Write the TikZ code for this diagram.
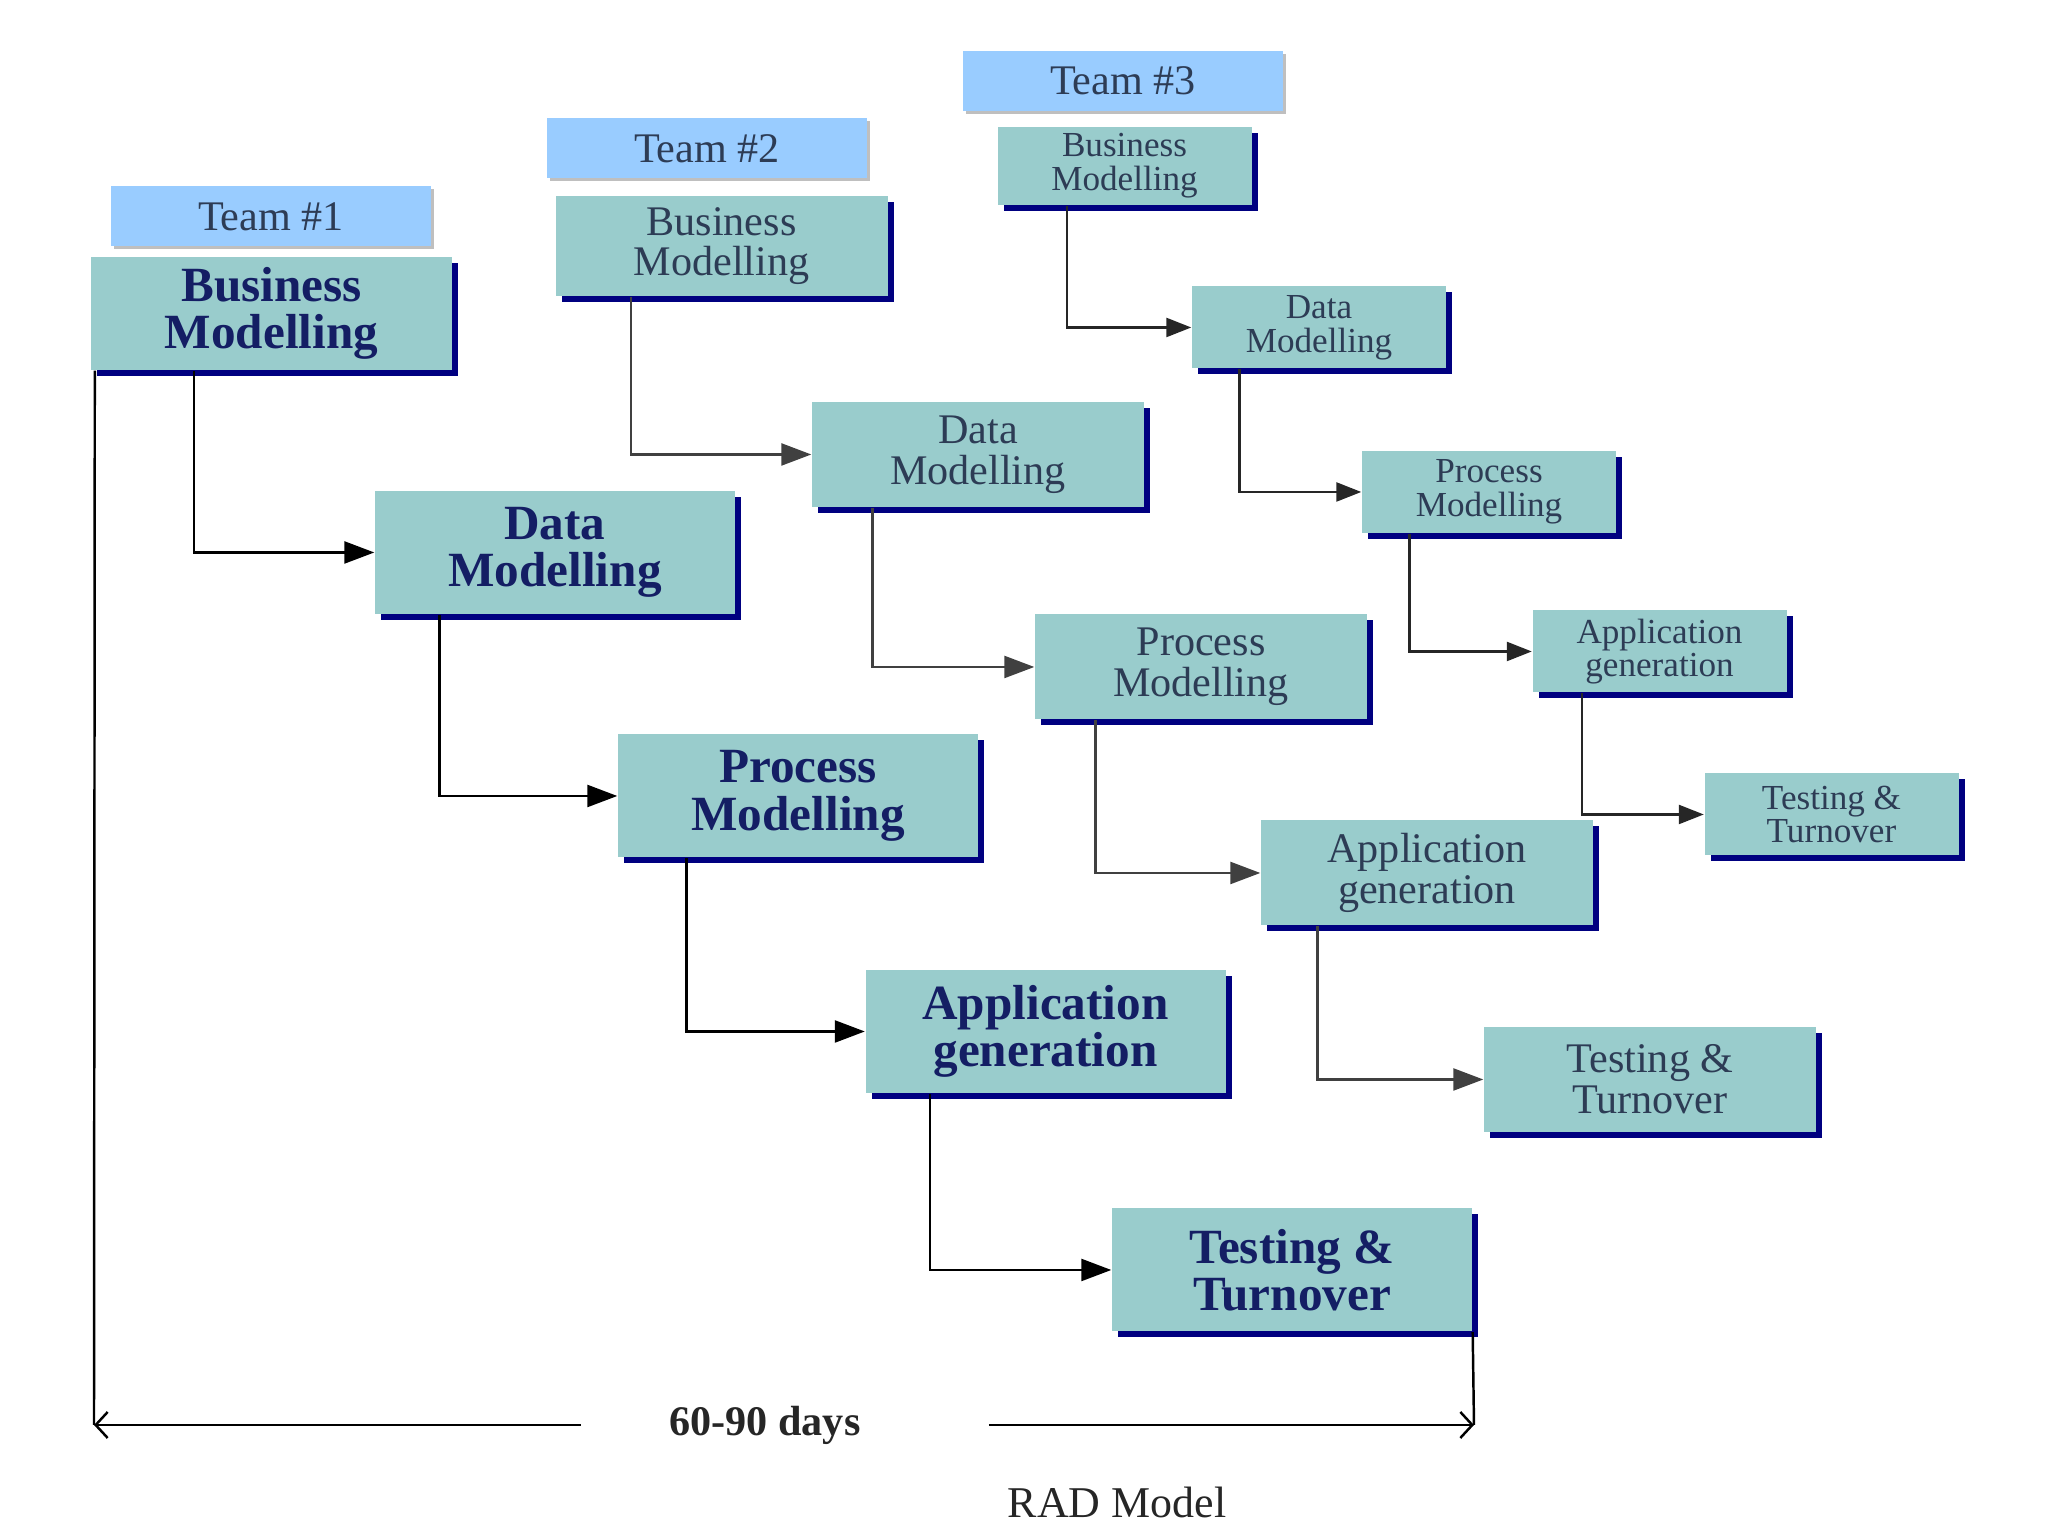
\documentclass[tikz,border=0pt]{standalone}
\usepackage{fontspec}
\setmainfont{Liberation Serif}
\usetikzlibrary{arrows.meta, positioning, shadows}

\definecolor{boxteal}{RGB}{153,204,204}
\definecolor{teamblue}{RGB}{153,204,255}
\definecolor{boxnavy}{RGB}{0,0,128}
\definecolor{textnavy}{RGB}{20,30,100}
\definecolor{textslate}{RGB}{45,60,85}

\begin{document}
\begin{tikzpicture}[
    stage/.style={fill=boxteal, align=center, inner sep=0pt,
        drop shadow={shadow xshift=0.6mm, shadow yshift=-0.6mm, fill=boxnavy, opacity=1}},
    bigstage/.style={stage, minimum width=3.6cm, minimum height=1.23cm, text=textnavy,
        font=\bfseries\fontsize{14}{13.5}\selectfont},
    midstage/.style={stage, minimum width=3.32cm, minimum height=1.05cm, text=textslate,
        font=\fontsize{12}{11.6}\selectfont},
    smallstage/.style={stage, minimum width=2.54cm, minimum height=0.82cm, text=textslate,
        font=\fontsize{10}{9.6}\selectfont},
    team/.style={fill=teamblue, minimum width=3.2cm, minimum height=0.6cm, inner sep=0pt,
        text=textslate, font=\fontsize{12}{14}\selectfont,
        drop shadow={shadow xshift=0.3mm, shadow yshift=-0.3mm, fill=gray!50, opacity=1}},
    flow/.style={-{Triangle[length=3mm, width=2.2mm]}, line width=0.7pt},
    smallflow/.style={-{Triangle[length=2.5mm, width=1.9mm]}, line width=0.7pt},
]
    \useasboundingbox (0,0) rectangle (20.48,15.36);

    % Team labels
    \node[team] (teamA) at (2.71,13.195) {Team \#1};
    \node[team] (teamB) at (7.07,13.875) {Team \#2};
    \node[team] (teamC) at (11.23,14.55) {Team \#3};

    % Team 1
    \node[bigstage, minimum height=1.13cm] (bmA) at (2.715,12.225) {Business\\Modelling};
    \node[bigstage] (dmA) at (5.55,9.835) {Data\\Modelling};
    \node[bigstage] (pmA) at (7.98,7.40) {Process\\Modelling};
    \node[bigstage] (agA) at (10.455,5.045) {Application\\generation};
    \node[bigstage] (ttA) at (12.92,2.66) {Testing \&\\Turnover};

    % Team 2
    \node[midstage, minimum height=1.0cm] (bmB) at (7.215,12.90) {Business\\Modelling};
    \node[midstage] (dmB) at (9.78,10.815) {Data\\Modelling};
    \node[midstage] (pmB) at (12.01,8.69) {Process\\Modelling};
    \node[midstage] (agB) at (14.27,6.63) {Application\\generation};
    \node[midstage] (ttB) at (16.50,4.565) {Testing \&\\Turnover};

    % Team 3
    \node[smallstage, minimum height=0.78cm] (bmC) at (11.245,13.70) {Business\\Modelling};
    \node[smallstage] (dmC) at (13.19,12.085) {Data\\Modelling};
    \node[smallstage] (pmC) at (14.89,10.44) {Process\\Modelling};
    \node[smallstage] (agC) at (16.595,8.845) {Application\\generation};
    \node[smallstage] (ttC) at (18.315,7.215) {Testing \&\\Turnover};

    % Team 1 flow
    \draw[flow] ([xshift=1.03cm]bmA.south west) |- (dmA);
    \draw[flow] ([xshift=0.65cm]dmA.south west) |- (pmA);
    \draw[flow] ([xshift=0.69cm]pmA.south west) |- (agA);
    \draw[flow] ([xshift=0.65cm]agA.south west) |- (ttA);

    % Team 2 flow
    \draw[flow, black!75] ([xshift=0.76cm]bmB.south west) |- (dmB);
    \draw[flow, black!75] ([xshift=0.61cm]dmB.south west) |- (pmB);
    \draw[flow, black!75] ([xshift=0.61cm]pmB.south west) |- (agB);
    \draw[flow, black!75] ([xshift=0.57cm]agB.south west) |- (ttB);

    % Team 3 flow
    \draw[smallflow, black!85] ([xshift=0.70cm]bmC.south west) |- (dmC);
    \draw[smallflow, black!85] ([xshift=0.48cm]dmC.south west) |- (pmC);
    \draw[smallflow, black!85] ([xshift=0.48cm]pmC.south west) |- (agC);
    \draw[smallflow, black!85] ([xshift=0.50cm]agC.south west) |- (ttC);

    % Time span
    \coordinate (spanL) at (0.94,1.11);
    \coordinate (spanR) at (14.74,1.11);
    \draw[line width=0.7pt] ([xshift=0.04cm]bmA.south west) -- (spanL);
    \draw[line width=0.7pt] (ttA.south east) -- (spanR);
    \node[font=\bfseries\fontsize{12}{14}\selectfont, text=black!85] (days) at (7.65,1.11) {60-90 days};
    \draw[{Straight Barb[length=1.2mm, width=2.6mm]}-, line width=0.7pt] (spanL) -- ([xshift=-0.76cm]days.west);
    \draw[-{Straight Barb[length=1.2mm, width=2.6mm]}, line width=0.7pt] ([xshift=1.16cm]days.east) -- (spanR);

    % Caption
    \node[font=\fontsize{12.5}{14}\selectfont, text=black!85] (caption) at (11.17,0.34) {RAD Model};
\end{tikzpicture}
\end{document}
